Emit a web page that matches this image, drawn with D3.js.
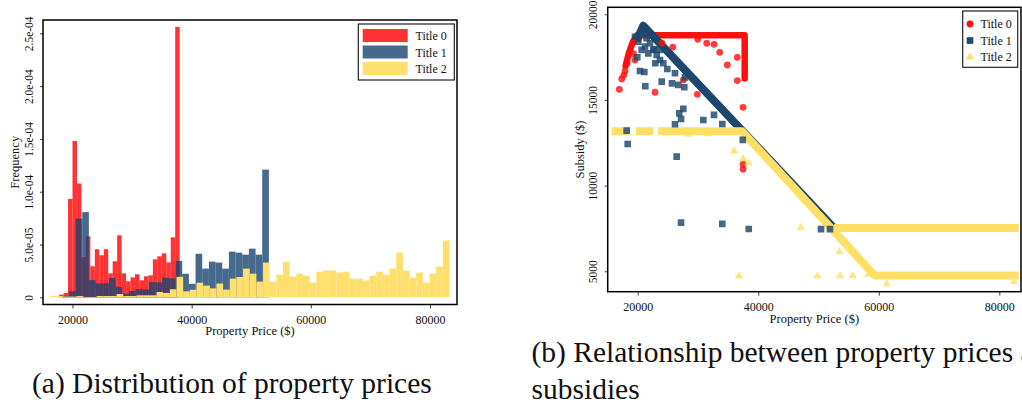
<!DOCTYPE html>
<html>
<head>
<meta charset="utf-8">
<script src="https://cdn.jsdelivr.net/npm/d3@7"></script>
<style>
  html, body { margin: 0; padding: 0; background: #fff; }
  #fig { display: block; }
</style>
</head>
<body>
<svg id="fig" width="1022" height="408"></svg>
<script>
const FONT = "'Liberation Serif', 'Times New Roman', serif";

const SERIES_NAMES = ["Title 0", "Title 1", "Title 2"];

// ---- (a) histograms: bin start / width in $, frequency in units of 1e-5 ----
const HIST0_START = 17752;
const HIST0_WIDTH = 749.5;
const HIST0_FREQ = [
  0.25, 0.41, 9.31, 14.8, 10.77, 3.79, 5.78, 2.94, 4.55, 3.98, 4.55, 2.27, 3.41,
  5.87, 2.27, 1.52, 1.89, 2.18, 1.61, 1.99, 2.08, 3.6, 3.88, 4.17, 3.31, 5.68, 25.6,
];

const HIST1_START = 18272;
const HIST1_WIDTH = 1119;
const HIST1_FREQ = [
  0.14, 0.57, 7.46, 8.07, 1.63, 1.33, 1.33, 1.83, 0.98, 0.34, 0.6, 0.79, 0.76,
  1.44, 1.42, 1.86, 1.8, 3.45, 2.23, 1.28, 4.12, 2.72, 3.38, 3.29, 2.72, 4.33,
  4.23, 4.04, 4.61, 4.04, 12.09,
];

const HIST2_START = 16225;
const HIST2_WIDTH = 1117.4;
const HIST2_FREQ = [
  0.12, 0.12, 0.07, 0.07, 0.12, 0.03, 0.03, 0.12, 0.12, 0.12, 0.31, 0.12, 0.12,
  0.19, 0.19, 0.19, 0.5, 0.41, 0.76, 1.94, 0.57, 0.72, 1.38, 1.11, 0.85, 1.3,
  0.73, 1.77, 1.92, 2.72, 2.24, 1.49, 3.29, 1.49, 2.15, 3.38, 1.96, 2.24, 2.05,
  1.39, 2.43, 2.53, 2.53, 2.34, 2.43, 1.77, 1.77, 1.58, 2.05, 2.43, 2.15, 2.72,
  4.23, 2.53, 1.87, 2.34, 1.39, 2.24, 2.91, 5.37,
];

const PRICE_TICKS = [20000, 40000, 60000, 80000];
const FREQ_TICKS = [0, 5, 10, 15, 20, 25];
const FREQ_TICK_LABELS = ["0", "5.0e-05", "1.0e-04", "1.5e-04", "2.0e-04", "2.5e-04"];

// ---- (b) scatter: [price, subsidy] ----
// dense runs of overlapping markers, read as polylines
const BAND0 = [
  [[18000, 17000], [18500, 17700], [19200, 18400], [19900, 18780], [37750, 18780], [37750, 16250]],
];
const BAND1 = [
  [[19800, 18450], [20930, 19330], [52600, 7515]],
];
const BAND2 = [
  [[15700, 13180], [18700, 13180]],
  [[19700, 13180], [22600, 13180]],
  [[23400, 13180], [37300, 13180], [59300, 4760], [83200, 4760]],
  [[52600, 7530], [83200, 7530]],
];

// isolated markers
const POINTS0 = [
  [16950, 15620], [17350, 16230], [17900, 16690], [17700, 16450], [18250, 17150],
  [19550, 17330], [19300, 17700], [22870, 15450], [24030, 18310], [25810, 18080],
  [27570, 16170], [29890, 15330], [29960, 18540], [31450, 18310], [32660, 18250],
  [33610, 17780], [34870, 17040], [36530, 17490], [36530, 16130], [37480, 14570],
  [37480, 11250], [37480, 10960],
];
const POINTS1 = [
  [19930, 17490], [20380, 16690], [21100, 16630], [21260, 15800], [22750, 17960],
  [22920, 17140], [23700, 17330], [23980, 16070], [24910, 16810], [25690, 15970],
  [26190, 16560], [26740, 15880], [27730, 15740], [27850, 16320], [26190, 13580],
  [26900, 14220], [27190, 13890], [27570, 14480], [30890, 13830], [32660, 14130],
  [34040, 13600], [26470, 11690], [27190, 7840], [34040, 7770], [38420, 7470],
  [37430, 12670], [18170, 13210], [18340, 12430], [50420, 7460], [51900, 7460],
  [19550, 18690], [20100, 18400], [20660, 18890], [21490, 18600], [22040, 18310],
  [21210, 18110], [22590, 17920], [21760, 17720], [23150, 17630], [23700, 17920],
  [24250, 17140], [20660, 17920],
];
const POINTS2 = [
  [28400, 13000], [31720, 13020], [35980, 12020], [37480, 11560], [38360, 11310],
  [36810, 4730], [47050, 7550], [53460, 6150], [55690, 6100], [49820, 4730],
  [53580, 4730], [55690, 4730], [58270, 4830], [61330, 4270], [82460, 4400],
];

const SUBSIDY_TICKS = [5000, 10000, 15000, 20000];

// ---- styling ----
const HIST_COLORS = ["#ff0000", "#184570", "#ffe06e"];
const HIST_OPACITY = [0.8, 0.8, 1];
const SCATTER_COLORS = ["#ff1010", "#1c476f", "#ffe066"];
const BAND_WIDTHS = [6.5, 8, 8];
const SYMBOLS = [d3.symbolCircle, d3.symbolSquare, d3.symbolTriangle];
const SYMBOL_SIZES = [36, 44, 30];

const svg = d3.select("#fig");
svg.append("rect").attr("width", 1022).attr("height", 408).attr("fill", "#fff");

function histBins(start, width, freq) {
  return freq.map((f, i) => ({ x0: start + i * width, x1: start + (i + 1) * width, f }));
}

function drawAxes(g, x, y, box, opt) {
  // d3.axis sets its own font on first call, so override afterwards
  const gx = g
    .append("g")
    .attr("transform", `translate(0,${box.bottom})`)
    .call(d3.axisBottom(x).tickValues(opt.xTicks).tickSize(4).tickFormat(d3.format("d")))
    .attr("font-family", FONT)
    .attr("font-size", 12);
  gx.select(".domain").remove();
  gx.selectAll(".tick line").attr("stroke", "#444");
  gx.selectAll(".tick text").attr("y", opt.xLabelOffset).attr("dy", 0).attr("fill", "#111");

  const gy = g
    .append("g")
    .attr("transform", `translate(${box.left},0)`)
    .call(
      d3.axisLeft(y)
        .tickValues(opt.yTicks)
        .tickSize(3)
        .tickFormat((d, i) => opt.yLabels[i])
    )
    .attr("font-family", FONT)
    .attr("font-size", 11.5);
  gy.select(".domain").remove();
  gy.selectAll(".tick line").attr("stroke", "#444");
  gy.selectAll(".tick text")
    .attr("transform", "rotate(-90)")
    .attr("x", 0)
    .attr("y", -opt.yLabelOffset)
    .attr("dy", 0)
    .attr("text-anchor", "middle")
    .attr("fill", "#111");

  g.append("text")
    .attr("x", (box.left + box.right) / 2)
    .attr("y", box.bottom + opt.xTitleOffset)
    .attr("text-anchor", "middle")
    .attr("font-family", FONT)
    .attr("font-size", 12.5)
    .attr("fill", "#111")
    .text(opt.xTitle);

  g.append("text")
    .attr("transform", `translate(${box.left - opt.yTitleOffset},${(box.top + box.bottom) / 2}) rotate(-90)`)
    .attr("text-anchor", "middle")
    .attr("font-family", FONT)
    .attr("font-size", 12.5)
    .attr("fill", "#111")
    .text(opt.yTitle);

  g.append("rect")
    .attr("x", box.left)
    .attr("y", box.top)
    .attr("width", box.right - box.left)
    .attr("height", box.bottom - box.top)
    .attr("fill", "none")
    .attr("stroke", "#000")
    .attr("stroke-width", 1.5);
}

// ================= (a) histogram panel =================
function drawHistogram() {
  const box = { left: 43, right: 457, top: 20, bottom: 304.5 };
  const x = d3.scaleLinear().domain([15050, 84530]).range([box.left, box.right]);
  const y = d3.scaleLinear().domain([-0.68, 26.26]).range([box.bottom, box.top]);
  const g = svg.append("g");

  const series = [
    histBins(HIST0_START, HIST0_WIDTH, HIST0_FREQ),
    histBins(HIST1_START, HIST1_WIDTH, HIST1_FREQ),
    histBins(HIST2_START, HIST2_WIDTH, HIST2_FREQ),
  ];

  series.forEach((bins, s) => {
    g.append("g")
      .selectAll("rect")
      .data(bins)
      .join("rect")
      .attr("x", (d) => x(d.x0))
      .attr("width", (d) => x(d.x1) - x(d.x0))
      .attr("y", (d) => y(d.f))
      .attr("height", (d) => y(0) - y(d.f))
      .attr("fill", HIST_COLORS[s])
      .attr("fill-opacity", HIST_OPACITY[s]);
  });

  drawAxes(g, x, y, box, {
    xTicks: PRICE_TICKS,
    yTicks: FREQ_TICKS,
    yLabels: FREQ_TICK_LABELS,
    xLabelOffset: 19.5,
    yLabelOffset: 10,
    xTitleOffset: 30.5,
    yTitleOffset: 24,
    xTitle: "Property Price ($)",
    yTitle: "Frequency",
  });

  // legend
  const lg = g.append("g").attr("font-family", FONT).attr("font-size", 12);
  lg.append("rect")
    .attr("x", 358.3).attr("y", 24).attr("width", 96).attr("height", 56)
    .attr("fill", "#fff").attr("stroke", "#222").attr("stroke-width", 1.2);
  SERIES_NAMES.forEach((name, i) => {
    lg.append("rect")
      .attr("x", 362.7).attr("y", 29 + i * 16.5).attr("width", 45).attr("height", 13)
      .attr("fill", HIST_COLORS[i]).attr("fill-opacity", HIST_OPACITY[i]);
    lg.append("text")
      .attr("x", 415.5).attr("y", 40 + i * 16.5).attr("fill", "#111").text(name);
  });
}

// ================= (b) scatter panel =================
function drawScatter() {
  const box = { left: 607.7, right: 1021, top: 7.3, bottom: 291.7 };
  const x = d3.scaleLinear().domain([15021, 83600]).range([box.left, box.right]);
  const y = d3.scaleLinear().domain([3810, 20408]).range([box.bottom, box.top]);
  const g = svg.append("g");

  g.append("clipPath").attr("id", "clipB")
    .append("rect")
    .attr("x", box.left).attr("y", box.top)
    .attr("width", box.right - box.left).attr("height", box.bottom - box.top);

  const plot = g.append("g").attr("clip-path", "url(#clipB)");
  const line = d3.line().x((d) => x(d[0])).y((d) => y(d[1]));

  [BAND0, BAND1, BAND2].forEach((bands, s) => {
    plot.append("g")
      .selectAll("path")
      .data(bands)
      .join("path")
      .attr("d", line)
      .attr("fill", "none")
      .attr("stroke", SCATTER_COLORS[s])
      .attr("stroke-width", BAND_WIDTHS[s])
      .attr("stroke-linecap", s === 0 ? "round" : "butt")
      .attr("stroke-linejoin", "round");
  });

  [POINTS0, POINTS1, POINTS2].forEach((pts, s) => {
    const sym = d3.symbol().type(SYMBOLS[s]).size(SYMBOL_SIZES[s]);
    plot.append("g")
      .selectAll("path")
      .data(pts)
      .join("path")
      .attr("transform", (d) => `translate(${x(d[0])},${y(d[1])})`)
      .attr("d", sym)
      .attr("fill", SCATTER_COLORS[s])
      .attr("fill-opacity", 0.82);
  });

  drawAxes(g, x, y, box, {
    xTicks: PRICE_TICKS,
    yTicks: SUBSIDY_TICKS,
    yLabels: SUBSIDY_TICKS.map(String),
    xLabelOffset: 19.3,
    yLabelOffset: 10.5,
    xTitleOffset: 31.3,
    yTitleOffset: 24,
    xTitle: "Property Price ($)",
    yTitle: "Subsidy ($)",
  });

  // legend
  const lg = g.append("g").attr("font-family", FONT).attr("font-size", 12);
  lg.append("rect")
    .attr("x", 962.7).attr("y", 11).attr("width", 55).attr("height", 56.3)
    .attr("fill", "#fff").attr("stroke", "#222").attr("stroke-width", 1.2);
  SERIES_NAMES.forEach((name, i) => {
    const cy = 24 + i * 16.5;
    lg.append("path")
      .attr("transform", `translate(970,${cy})`)
      .attr("d", d3.symbol().type(SYMBOLS[i]).size(SYMBOL_SIZES[i])())
      .attr("fill", SCATTER_COLORS[i]);
    lg.append("text").attr("x", 980.5).attr("y", cy + 4).attr("fill", "#111").text(name);
  });
}

drawHistogram();
drawScatter();

// captions (the second line of (b) runs past the right edge, as in the source figure)
const cap = svg.append("g").attr("font-family", FONT).attr("font-size", 29.5).attr("fill", "#111");
cap.append("text").attr("x", 32).attr("y", 392.7).text("(a) Distribution of property prices");
cap.append("text").attr("x", 531.5).attr("y", 362).text("(b) Relationship between property prices and");
cap.append("text").attr("x", 531.5).attr("y", 399).text("subsidies");
</script>
</body>
</html>
